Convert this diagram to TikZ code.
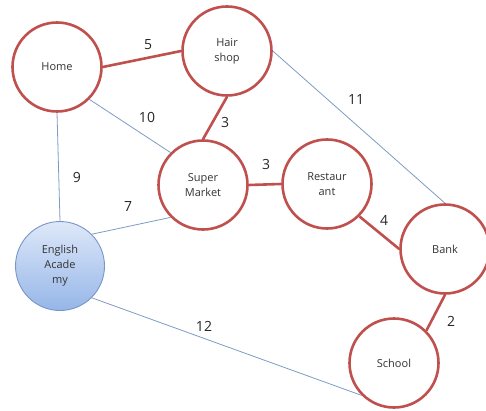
\documentclass[tikz,border=0pt]{standalone}
\usepackage{fontspec}
\setmainfont{Open Sans}
\usetikzlibrary{positioning}
\definecolor{plred}{RGB}{192,80,77}
\definecolor{plblue}{RGB}{125,155,195}
\definecolor{acline}{RGB}{120,150,200}
\definecolor{actop}{RGB}{222,232,249}
\definecolor{acbot}{RGB}{150,182,232}
\tikzset{
  place/.style={circle, draw=plred, line width=2.6pt, fill=white, minimum size=89pt, inner sep=0pt, align=center, font=\fontsize{11}{15}\selectfont, text=black!80},
  acad/.style={place, draw=acline, line width=0.9pt, top color=actop, bottom color=acbot},
  road/.style={draw=plred, line width=2.6pt},
  link/.style={draw=plblue, line width=0.8pt},
  wt/.style={font=\fontsize{14}{16}\selectfont, text=black!85, inner sep=1pt},
}

\begin{document}
\begin{tikzpicture}[x=1pt, y=-1pt]
\useasboundingbox (0,0) rectangle (486,411);
% places
\node[place] (home) at (57,67) {Home};
\node[place] (hair) at (227,51) {Hair\\shop};
\node[place] (super) at (203,185) {Super\\Market};
\node[place] (rest) at (327,184) {Restaur\\ant};
\node[place] (bank) at (445,249) {Bank};
\node[place] (school) at (394,363) {School};
\node[acad] (eng) at (60,266) {English\\Acade\\my};
% thin links
\draw[link] (home.south east) -- (super.north west);
\draw[link] (home.south) -- (eng.north);
\draw[link] (hair.east) -- (bank.north);
\draw[link] (eng.north east) -- (super.south west);
\draw[link] (eng.south east) -- (school.south west);
% red roads
\draw[road] (home.east) -- (hair.west);
\draw[road] (hair.south) -- (super.north);
\draw[road] (super.east) -- (rest.west);
\draw[road] (rest.south east) -- (bank.west);
\draw[road] (bank.south) -- (school.north east);
% weights
\node[wt] (w5) at (148,45) {5};
\node[wt] (w10) at (147,117) {10};
\node[wt] (w3a) at (225,123) {3};
\node[wt] (w11) at (356,100) {11};
\node[wt] (w9) at (77,178) {9};
\node[wt] (w7) at (128,207) {7};
\node[wt] (w3b) at (266,165) {3};
\node[wt] (w4) at (384,220) {4};
\node[wt] (w2) at (451,321) {2};
\node[wt] (w12) at (204,326) {12};
\end{tikzpicture}
\end{document}
